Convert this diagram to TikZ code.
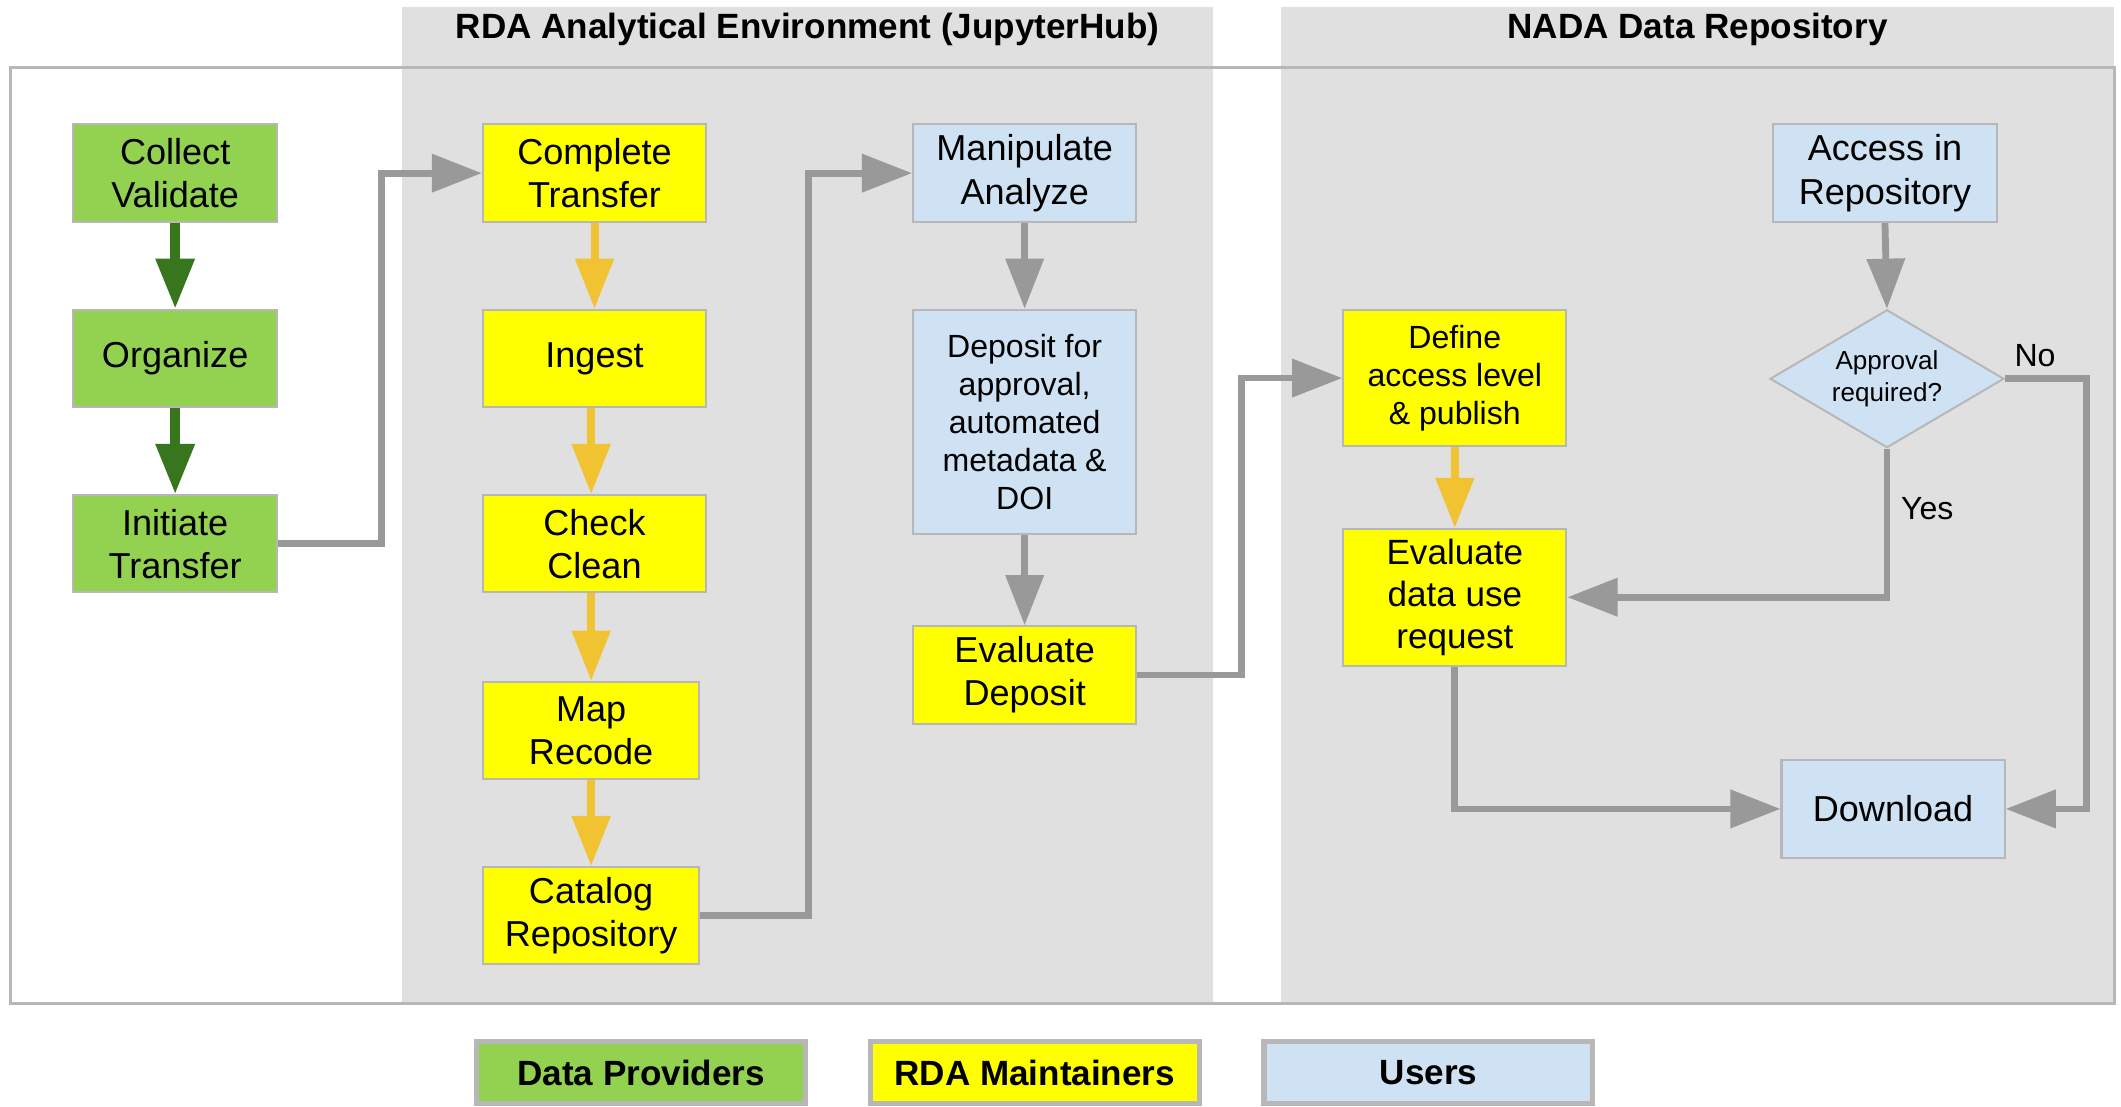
\documentclass[tikz,border=0pt]{standalone}
\usepackage{fontspec}
\setmainfont{Liberation Sans}
\usetikzlibrary{arrows.meta,shapes.geometric}
\definecolor{panelgray}{HTML}{E0E0E0}
\definecolor{framegray}{HTML}{B7B7B7}
\definecolor{arrowgray}{HTML}{999999}
\definecolor{pgreen}{HTML}{93D150}
\definecolor{dgreen}{HTML}{38761D}
\definecolor{pyellow}{HTML}{FFFF00}
\definecolor{ayellow}{HTML}{F1C232}
\definecolor{pblue}{HTML}{CFE2F3}
\begin{document}
\begin{tikzpicture}[x=0.675pt,y=-0.675pt,
  box/.style={draw=framegray,line width=1pt,inner sep=0pt,align=center,
    font=\fontsize{18}{21.6}\selectfont},
  gbox/.style={box,fill=pgreen},
  ybox/.style={box,fill=pyellow},
  bbox/.style={box,fill=pblue},
  garr/.style={draw=dgreen,line width=4.7pt,-{Triangle[length=25pt,width=18.5pt]}},
  yarr/.style={draw=ayellow,line width=4pt,-{Triangle[length=25pt,width=18.5pt]}},
  grarr/.style={draw=arrowgray,line width=3.4pt,-{Triangle[length=25pt,width=18.5pt]}},
  lbl/.style={font=\fontsize{16}{19}\selectfont},
  ttl/.style={font=\fontsize{17.5}{21}\selectfont\bfseries},
  leg/.style={draw=framegray,line width=2.6pt,inner sep=0pt,minimum width=243*0.675pt,
    minimum height=46*0.675pt,font=\fontsize{17.5}{21}\selectfont\bfseries}]
\useasboundingbox (0,0) rectangle (1568,818);
% panels
\fill[panelgray] (297,5) rectangle (897,742);
\fill[panelgray] (947,5) rectangle (1563,742);
\draw[framegray,line width=1.6pt] (8,50) rectangle (1563,742);
\node[ttl] (t1) at (597,22) {RDA Analytical Environment (JupyterHub)};
\node[ttl] (t2) at (1255,22) {NADA Data Repository};
% data providers
\node[gbox,minimum width=151*0.675pt,minimum height=72*0.675pt] (cv) at (129.5,128) {Collect\\Validate};
\node[gbox,minimum width=151*0.675pt,minimum height=72*0.675pt] (org) at (129.5,265) {Organize};
\node[gbox,minimum width=151*0.675pt,minimum height=72*0.675pt] (init) at (129.5,402) {Initiate\\Transfer};
% RDA column
\node[ybox,minimum width=165*0.675pt,minimum height=72*0.675pt] (ct) at (439.5,128) {Complete\\Transfer};
\node[ybox,minimum width=165*0.675pt,minimum height=72*0.675pt] (ing) at (439.5,265) {Ingest};
\node[ybox,minimum width=165*0.675pt,minimum height=72*0.675pt] (cc) at (439.5,402) {Check\\Clean};
\node[ybox,minimum width=160*0.675pt,minimum height=72*0.675pt] (mr) at (437,540) {Map\\Recode};
\node[ybox,minimum width=160*0.675pt,minimum height=72*0.675pt] (cat) at (437,677) {Catalog\\Repository};
\node[bbox,minimum width=165*0.675pt,minimum height=72*0.675pt] (ma) at (757.5,128) {Manipulate\\Analyze};
\node[bbox,minimum width=165*0.675pt,minimum height=166*0.675pt,font=\fontsize{16}{19}\selectfont] (dep) at (757.5,312) {Deposit for\\approval,\\automated\\metadata \&\\DOI};
\node[ybox,minimum width=165*0.675pt,minimum height=72*0.675pt] (ed) at (757.5,499) {Evaluate\\Deposit};
% NADA
\node[ybox,minimum width=165*0.675pt,minimum height=101*0.675pt,font=\fontsize{16}{19}\selectfont] (def) at (1075.5,279.5) {Define\\access level\\\& publish};
\node[ybox,minimum width=165*0.675pt,minimum height=101*0.675pt,font=\fontsize{17.5}{21}\selectfont] (edu) at (1075.5,441.5) {Evaluate\\data use\\request};
\node[bbox,minimum width=165*0.675pt,minimum height=72*0.675pt] (acc) at (1393.5,128) {Access in\\Repository};
\node[bbox,diamond,aspect=1.7,minimum width=173*0.675pt,minimum height=102*0.675pt,font=\fontsize{13}{16}\selectfont] (appr) at (1395,280) {Approval\\required?};
\node[bbox,minimum width=165*0.675pt,minimum height=72*0.675pt] (dl) at (1399.5,598) {Download};
% connectors
\draw[garr] (cv.south) -- (org.north);
\draw[garr] (org.south) -- (init.north);
\draw[yarr] (ct.south) -- (ing.north);
\draw[yarr] (ing.south -| mr.north) -- (cc.north -| mr.north);
\draw[yarr] (cc.south -| mr.north) -- (mr.north);
\draw[yarr] (mr.south) -- (cat.north);
\draw[yarr] (def.south) -- (edu.north);
\draw[grarr] (init.east) -- ++(76,0) |- (ct.west);
\draw[grarr] (cat.east) -- ++(80,0) |- (ma.west);
\draw[grarr] (ed.east) -- ++(77,0) |- (def.west);
\draw[grarr] (ma.south) -- (dep.north);
\draw[grarr] (dep.south) -- (ed.north);
\draw[grarr] (acc.south) -- (appr.north);
\draw[grarr] (appr.south) |- node[lbl,pos=0.2,right=2pt] {Yes} (edu.east);
\draw[grarr] (appr.east) -- node[lbl,pos=0.37,above=1pt] {No} ++(60,0) |- (dl.east);
\draw[grarr] (edu.south) |- (dl.west);
% legend
\node[leg,fill=pgreen] (l1) at (474,793) {Data Providers};
\node[leg,fill=pyellow] (l2) at (765,793) {RDA Maintainers};
\node[leg,fill=pblue] (l3) at (1056,793) {Users};
\end{tikzpicture}
\end{document}
